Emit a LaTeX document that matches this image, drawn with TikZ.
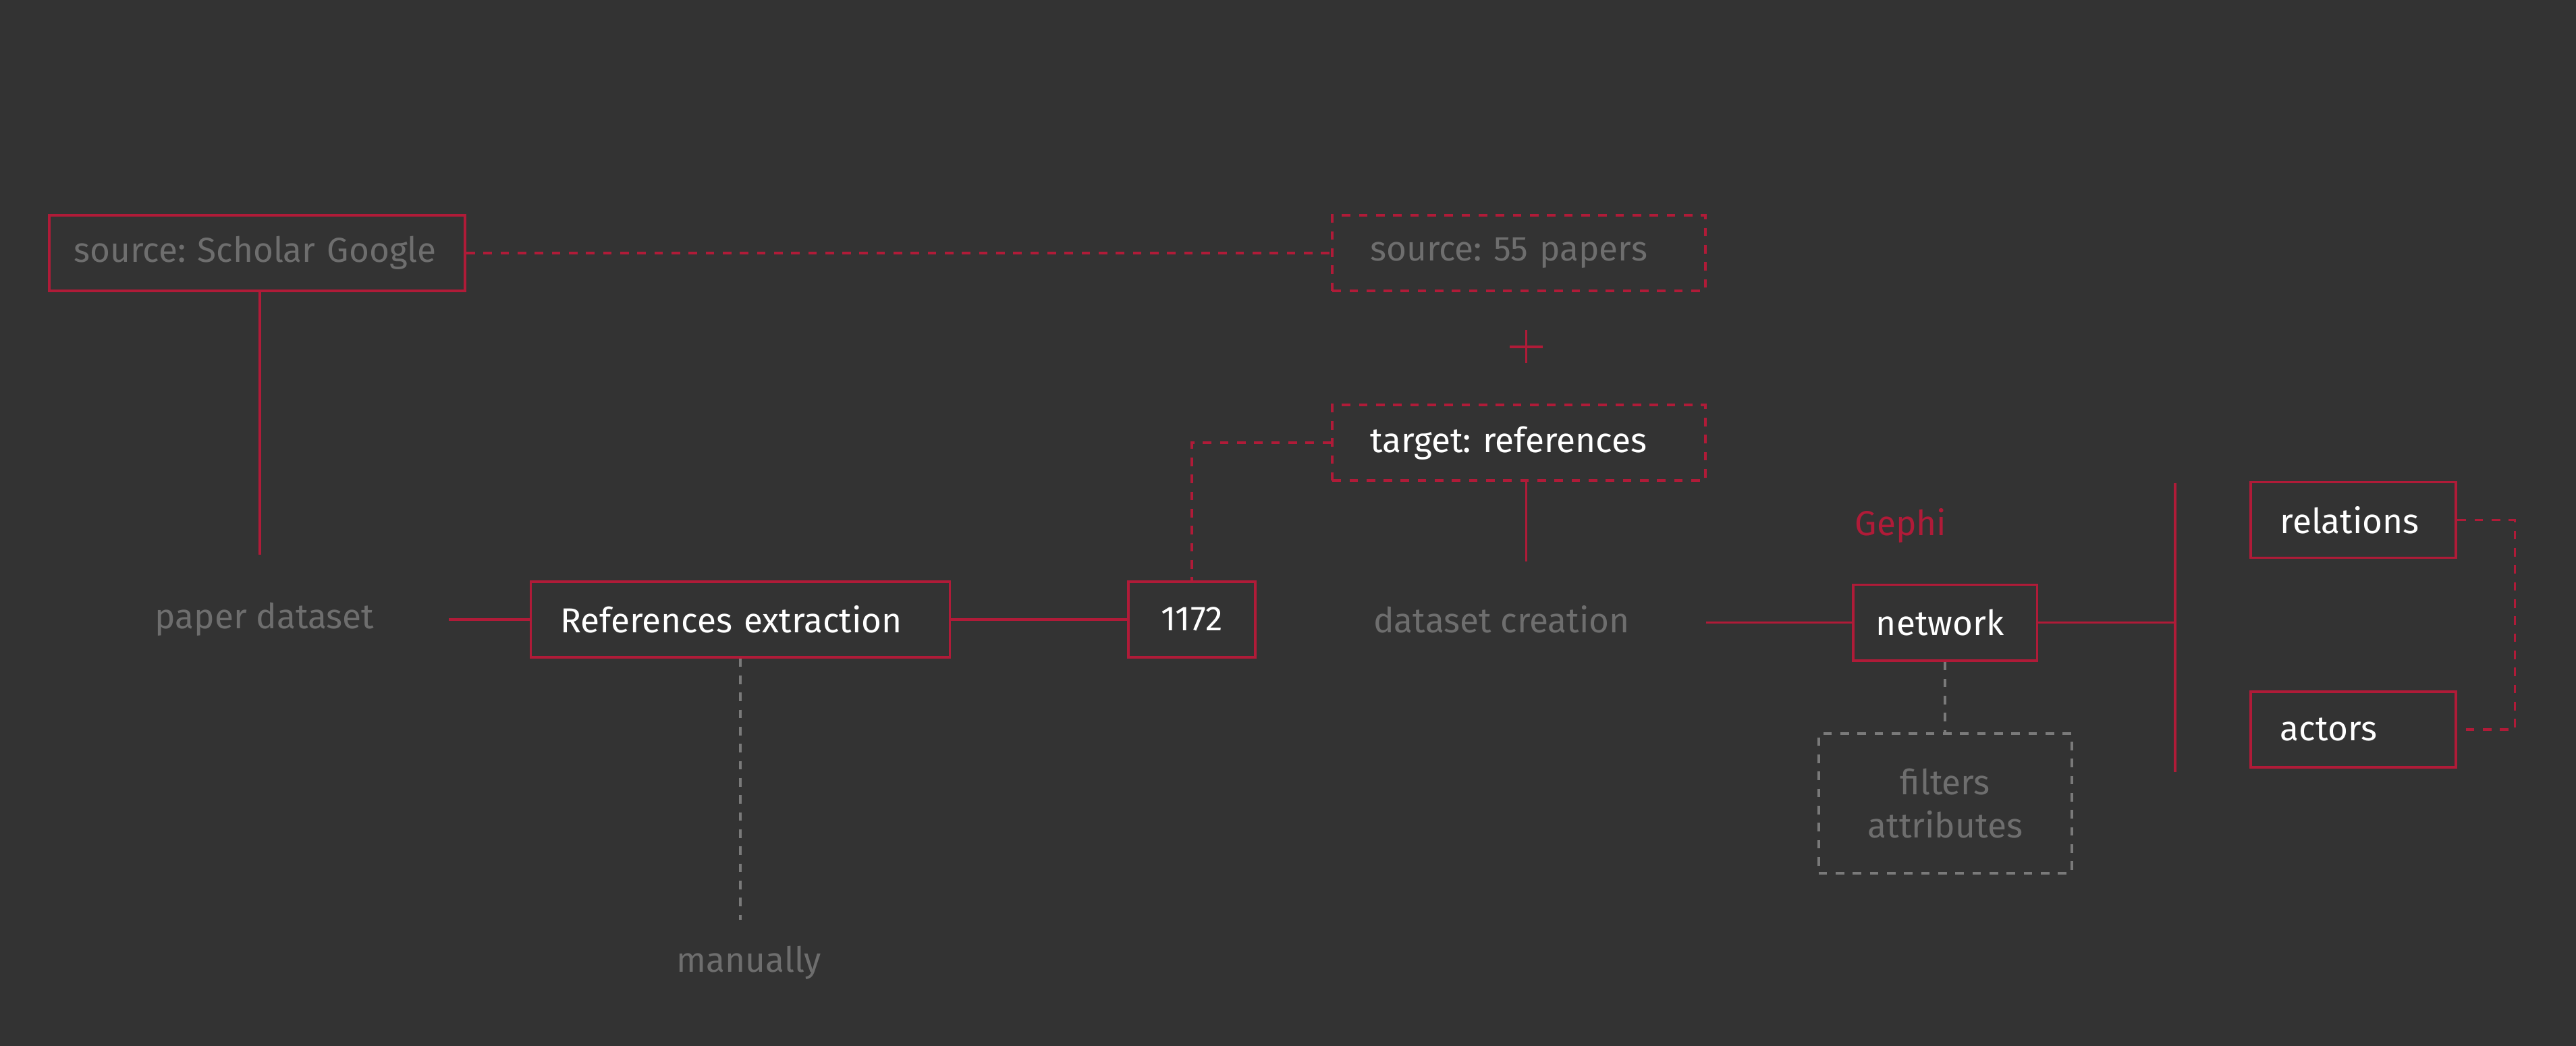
\documentclass[tikz,border=0pt]{standalone}
\usepackage{fontspec}
\setmainfont{Fira Sans}
\usepackage{xcolor}
\usepackage{tikz}
\usetikzlibrary{positioning,calc}
\definecolor{canvas}{HTML}{333333}
\definecolor{accent}{HTML}{B01B38}
\definecolor{muted}{HTML}{6E6E6E}
\definecolor{dashgray}{HTML}{7A7A7A}
\newcommand{\boxfont}{\fontsize{15}{18.5}\selectfont}
\frenchspacing

\begin{document}
\begin{tikzpicture}[
    x=0.025cm, y=-0.025cm,
    box/.style={draw=accent, line width=1.1pt, minimum height=1.15cm, inner xsep=0.45cm, align=left, text=white, font=\boxfont},
    dashbox/.style={box, dash pattern=on 3.7pt off 3.7pt},
    graybox/.style={draw=dashgray, line width=1.1pt, dash pattern=on 3.7pt off 3.7pt, align=center, text=muted, font=\boxfont},
    note/.style={text=muted, font=\boxfont},
    link/.style={accent, line width=1.1pt},
    dashlink/.style={link, dash pattern=on 3.7pt off 3.7pt},
    graylink/.style={dashgray, line width=1.1pt, dash pattern=on 3.7pt off 3.7pt}
]
    \fill[canvas] (0,0) rectangle (1568,636.7);

    % sources
    \node[box, text=muted, inner xsep=0.375cm, text width=5.575cm] (scholar) at (156.5,154) {source: Scholar Google};
    \node[dashbox, text=muted, inner xsep=0.575cm, text width=4.525cm] (src55) at (924.5,154) {source: 55 papers};
    \node[dashbox, inner xsep=0.575cm, text width=4.525cm, below=1.7cm of src55] (target) {target: references};

    % extraction row
    \node[note, minimum width=5.6cm, minimum height=1.95cm] (paper) at (161,377) {paper dataset};
    \node[box, text width=5.475cm, right=1.225cm of paper] (refs) {References extraction};
    \node[box, align=center, text width=1.025cm, right=2.68cm of refs] (n1172) {1172};
    \node[note, minimum height=1.3cm] (manually) at (456,586) {manually};
    \node[note, minimum width=6.2cm, minimum height=1.75cm] (creation) at (914,377) {dataset creation};

    % gephi part
    \node[text=accent, font=\boxfont] (gephi) at (1157,320) {Gephi};
    \node[box, inner xsep=0.35cm, text width=2.1cm] (network) at (1184,379) {network};
    \node[graybox, minimum width=3.85cm, minimum height=2.125cm, below=1.075cm of network] (filters) {filters\\attributes};
    \node[box, text width=2.225cm] (relations) at (1432.5,316.5) {relations};
    \node[box, text width=2.225cm, below=2cm of relations] (actors) {actors};
    \coordinate (bustop) at (1324,294);
    \coordinate (busbot) at (1324,470);

    % plus sign
    \draw[link] (919,211) -- (939,211);
    \draw[link] (929,201) -- (929,221);

    \draw[dashlink] (scholar.east) -- (src55.west);
    \draw[link] (scholar.south -| 158,0) -- (paper.north -| 158,0);
    \draw[link] (paper.east) -- (refs.west);
    \draw[link] (refs) -- (n1172);
    \draw[graylink] (refs.south) -- (refs.south |- manually.north);
    \draw[dashlink] (target.west) -| (n1172.north);
    \draw[link] (target.south -| 929,0) -- (creation.north -| 929,0);
    \draw[link] (creation.east |- network) -- (network.west);
    \draw[graylink] (network.south) -- (filters.north);
    \draw[link] (network.east) -- (network.east -| bustop);
    \draw[link] (bustop) -- (busbot);
    \draw[dashlink] (relations.east) -- ++(35,0) |- (actors.east);
\end{tikzpicture}
\end{document}
